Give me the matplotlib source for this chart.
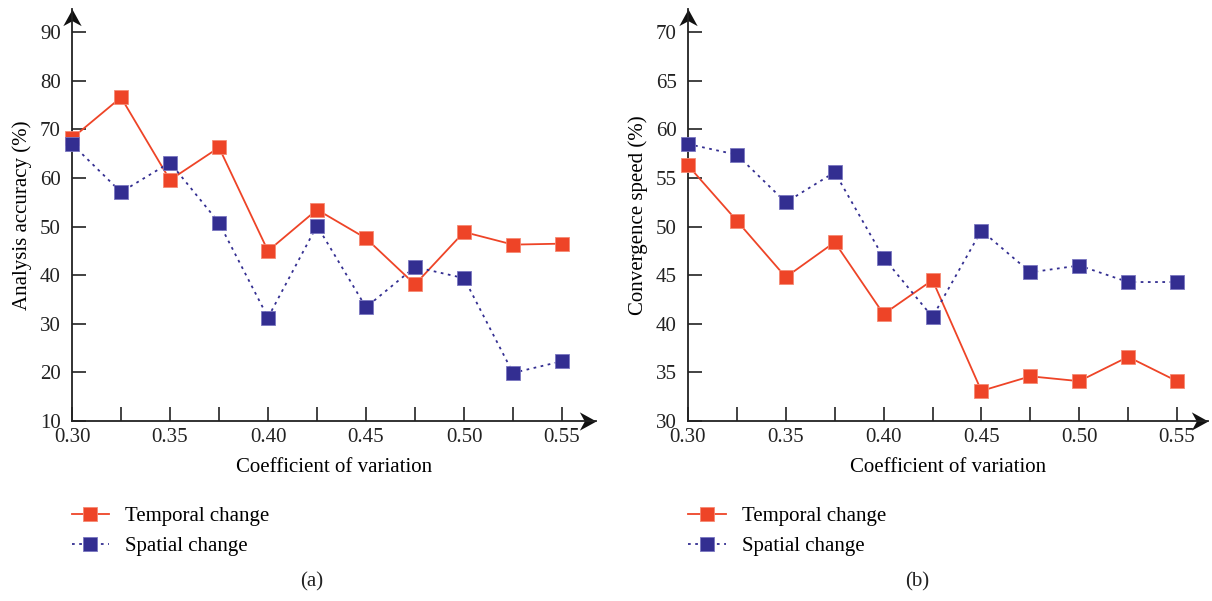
import matplotlib
matplotlib.use("Agg")
import matplotlib.pyplot as plt
from matplotlib.path import Path

plt.rcParams['font.family'] = ['Liberation Serif', 'DejaVu Serif']

# coefficient of variation
cv = [0.300, 0.325, 0.350, 0.375, 0.400, 0.425, 0.450, 0.475, 0.500, 0.525, 0.550]

# (a) analysis accuracy (%)
acc_temporal = [68.2, 76.6, 59.6, 66.3, 45.0, 53.5, 47.6, 38.1, 48.9, 46.3, 46.5]
acc_spatial = [67.0, 57.1, 63.2, 50.8, 31.3, 50.2, 33.4, 41.7, 39.4, 19.9, 22.3]

# (b) convergence speed (%)
spd_temporal = [56.3, 50.6, 44.8, 48.4, 41.0, 44.5, 33.1, 34.6, 34.1, 36.6, 34.1]
spd_spatial = [58.5, 57.4, 52.5, 55.6, 46.8, 40.7, 49.6, 45.3, 46.0, 44.3, 44.3]

RED = '#EE4427'
BLUE = '#332E91'
FS = 15

# stealth style arrow heads (tip at origin)
ARROW_RIGHT = Path([(0, 0), (-1, 0.55), (-0.7, 0), (-1, -0.55), (0, 0)],
                   [Path.MOVETO, Path.LINETO, Path.LINETO, Path.LINETO, Path.CLOSEPOLY])
ARROW_UP = Path([(0, 0), (0.55, -1), (0, -0.7), (-0.55, -1), (0, 0)],
                [Path.MOVETO, Path.LINETO, Path.LINETO, Path.LINETO, Path.CLOSEPOLY])


def draw_panel(ax, y_temp, y_spat, ylo, yhi, ystep, ytop, xright, ylabel):
    ax.plot(cv, y_temp, color=RED, lw=1.3, marker='s', ms=10, clip_on=False, zorder=3,
            markeredgecolor='#F58A74', markeredgewidth=0.6, label='Temporal change')
    ax.plot(cv, y_spat, color=BLUE, lw=1.3, ls=(0, (1.5, 2.5)), marker='s', ms=10,
            clip_on=False, zorder=3,
            markeredgecolor='#7A76C0', markeredgewidth=0.6, label='Spatial change')

    ax.set_xlim(0.30, xright)
    ax.set_ylim(ylo, ytop)
    ax.spines['top'].set_visible(False)
    ax.spines['right'].set_visible(False)
    for s in ('left', 'bottom'):
        ax.spines[s].set_linewidth(1.3)
        ax.spines[s].set_color('#222222')

    ax.set_xticks([0.30, 0.325, 0.35, 0.375, 0.40, 0.425, 0.45, 0.475, 0.50, 0.525, 0.55])
    ax.set_xticklabels(['0.30', '', '0.35', '', '0.40', '', '0.45', '', '0.50', '', '0.55'])
    ax.set_yticks(list(range(ylo, yhi + 1, ystep)))
    ax.tick_params(axis='both', direction='in', length=10, width=1.2,
                   labelsize=FS, colors='#222222')
    ax.tick_params(axis='y', pad=8)
    ax.tick_params(axis='x', pad=5)

    ax.set_xlabel('Coefficient of variation', fontsize=FS, labelpad=8)
    ax.set_ylabel(ylabel, fontsize=FS, labelpad=6)

    ax.plot([1.0], [0], marker=ARROW_RIGHT, ms=24, color='#111111', mew=0,
            transform=ax.transAxes, clip_on=False)
    ax.plot([0], [1.0], marker=ARROW_UP, ms=24, color='#111111', mew=0,
            transform=ax.transAxes, clip_on=False)


fig = plt.figure(figsize=(12.12, 6.01), dpi=100)
ax1 = fig.add_axes([72 / 1212, 0.2995, 524 / 1212, 0.685])
ax2 = fig.add_axes([688 / 1212, 0.2995, 520 / 1212, 0.685])

draw_panel(ax1, acc_temporal, acc_spatial, 10, 90, 10, 90 + 23 / 4.8625,
           0.30 + 524 / 490 * 0.25, 'Analysis accuracy (%)')
draw_panel(ax2, spd_temporal, spd_spatial, 30, 70, 5, 70 + 23 / 9.725,
           0.30 + 520 / 489 * 0.25, 'Convergence speed (%)')

for ax, x0, tag, tx in ((ax1, 0.0437, '(a)', 0.257), (ax2, 0.5525, '(b)', 0.757)):
    h, l = ax.get_legend_handles_labels()
    fig.legend(h, l, loc='upper left', bbox_to_anchor=(x0, 0.188), frameon=False,
               fontsize=FS, handlelength=1.8, handletextpad=0.75, labelspacing=0.5)
    fig.text(tx, 0.032, tag, fontsize=FS, ha='center', va='center', color='#222222')

fig.savefig('out.png', dpi=100)
